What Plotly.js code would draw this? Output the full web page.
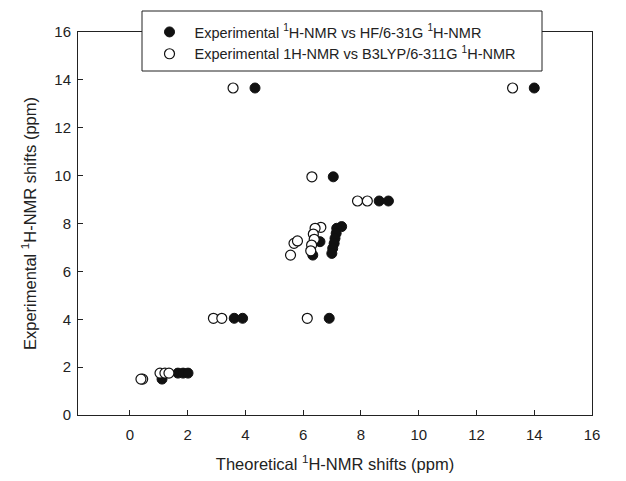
<!DOCTYPE html>
<html>
<head>
<meta charset="utf-8">
<script src="https://cdn.plot.ly/plotly-3.0.1.min.js"></script>
<style>html,body{margin:0;padding:0;background:#fff;}#chart{width:626px;height:481px;}</style>
</head>
<body>
<div id="chart"></div>
<script>
// HF/6-31G theoretical vs experimental
const hfTheoretical = [14.0, 4.33, 7.04, 8.63, 8.95, 7.33, 7.16, 7.14, 7.10, 7.07, 7.02, 6.99, 6.58, 6.33, 3.61, 3.90, 6.90, 1.66, 1.84, 2.01, 1.11];
const hfExperimental = [13.66, 13.66, 9.95, 8.94, 8.94, 7.87, 7.80, 7.59, 7.38, 7.17, 6.96, 6.75, 7.24, 6.68, 4.04, 4.04, 4.04, 1.75, 1.75, 1.75, 1.5];
// B3LYP/6-311G theoretical vs experimental
const b3Theoretical = [13.25, 3.57, 6.30, 7.88, 8.22, 6.61, 6.41, 6.35, 6.38, 6.29, 6.26, 5.68, 5.80, 5.56, 2.89, 3.18, 6.14, 1.04, 1.21, 1.35, 0.44, 0.38];
const b3Experimental = [13.66, 13.66, 9.95, 8.94, 8.94, 7.84, 7.80, 7.56, 7.34, 7.10, 6.86, 7.17, 7.27, 6.68, 4.04, 4.04, 4.04, 1.75, 1.75, 1.75, 1.5, 1.5];
const tickVals = [0, 2, 4, 6, 8, 10, 12, 14, 16];
const seriesNames = ["Experimental <sup>1</sup>H-NMR vs HF/6-31G <sup>1</sup>H-NMR", "Experimental 1H-NMR vs B3LYP/6-311G <sup>1</sup>H-NMR"];

const FONT = 'Liberation Sans, Arial, sans-serif';
const traces = [
  {x: hfTheoretical, y: hfExperimental, mode: 'markers', type: 'scatter', name: seriesNames[0],
   marker: {symbol: 'circle', size: 10, color: '#111', line: {color: '#111', width: 1}}},
  {x: b3Theoretical, y: b3Experimental, mode: 'markers', type: 'scatter', name: seriesNames[1],
   marker: {symbol: 'circle', size: 10, color: '#fff', line: {color: '#111', width: 1.2}}}
];
const axisCommon = {showline: true, linecolor: '#222', linewidth: 1, mirror: true, ticks: 'inside', ticklen: 5, tickcolor: '#222',
  showgrid: false, zeroline: false, tickfont: {family: FONT, size: 15, color: '#222'}, tickvals: tickVals};
const layout = {
  width: 626, height: 481,
  margin: {l: 78, r: 34, t: 32, b: 66},
  paper_bgcolor: '#fff', plot_bgcolor: '#fff',
  showlegend: true,
  xaxis: Object.assign({}, axisCommon, {range: [-1.8, 16], ticklabelstandoff: 6,
    title: {text: 'Theoretical <sup>1</sup>H-NMR shifts (ppm)', font: {family: FONT, size: 16.5, color: '#222'}, standoff: 16}}),
  yaxis: Object.assign({}, axisCommon, {range: [0, 16], ticklabelstandoff: 3,
    title: {text: 'Experimental <sup>1</sup>H-NMR shifts (ppm)', font: {family: FONT, size: 16.5, color: '#222'}, standoff: 13}}),
  shapes: [{type: 'rect', xref: 'paper', yref: 'paper', layer: 'above',
    x0: (142 - 78) / 514, x1: (542 - 78) / 514, y0: (415 - 71) / 383, y1: (415 - 11) / 383,
    fillcolor: '#fff', line: {color: '#222', width: 1}}],
  legend: {x: 0.1294, y: 1.0418, xanchor: 'left', yanchor: 'top', bgcolor: 'rgba(0,0,0,0)', borderwidth: 0,
    font: {family: FONT, size: 14.5, color: '#222'}, itemwidth: 40}
};
Plotly.newPlot('chart', traces, layout, {displayModeBar: false, staticPlot: true});
</script>
</body>
</html>
